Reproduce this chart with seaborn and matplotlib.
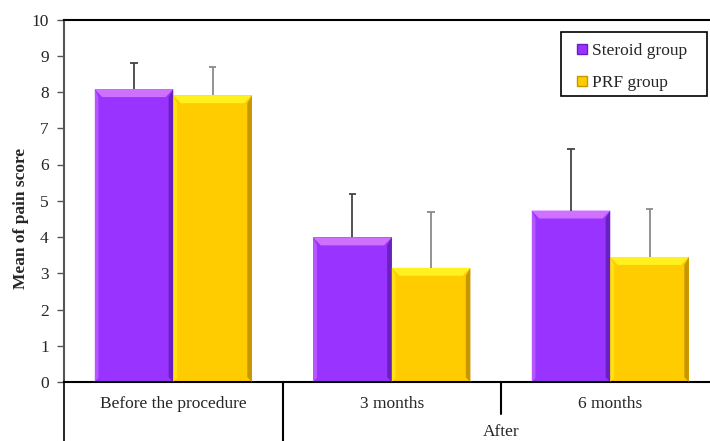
import numpy as np
import pandas as pd
import matplotlib
matplotlib.use('Agg')
import matplotlib.pyplot as plt
from matplotlib.lines import Line2D
from matplotlib.patches import Polygon, Rectangle
import seaborn as sns

# data
timepoints = ['Before the procedure', '3 months', '6 months']
groups = ['Steroid group', 'PRF group']
steroid_mean = [8.08, 3.99, 4.73]
steroid_sd = [0.73, 1.20, 1.71]
prf_mean = [7.91, 3.15, 3.45]
prf_sd = [0.79, 1.54, 1.32]

colors = {'Steroid group': '#9933FF', 'PRF group': '#FFCC00'}
light = {'Steroid group': '#D070FF', 'PRF group': '#FFF020'}
dark = {'Steroid group': '#6A1FC0', 'PRF group': '#C89600'}
err_col = {'Steroid group': '#444444', 'PRF group': '#8a8a8a'}

df = pd.DataFrame({
    'time': timepoints * 2,
    'group': [groups[0]] * 3 + [groups[1]] * 3,
    'mean': steroid_mean + prf_mean,
    'sd': steroid_sd + prf_sd,
})

sns.set_style('white')
plt.rcParams['font.family'] = ['Liberation Serif', 'DejaVu Serif']

W, H = 710, 441
fig = plt.figure(figsize=(7.1, 4.41), dpi=100)
ax = fig.add_axes([64 / W, 1 - 382 / H, 655.5 / W, 362.5 / H])

sns.barplot(data=df, x='time', y='mean', hue='group', palette=colors,
            width=0.72, gap=0, errorbar=None, saturation=1, ax=ax,
            edgecolor='none', legend=False)

# error bars (upward only) and a simple bevel on each bar
n = len(timepoints)
for i, p in enumerate(ax.patches[:2 * n]):
    g = groups[i // n]
    row = df[(df['group'] == g)].iloc[i % n]
    x0, w, h = p.get_x(), p.get_width(), p.get_height()
    cx = x0 + w / 2
    top = h + row['sd']
    ax.vlines(cx, h, top, color=err_col[g], lw=1.3, zorder=4)
    ax.hlines(top, cx - 0.017, cx + 0.017, color=err_col[g], lw=1.3, zorder=4)
    bx, by = 0.035, 0.22
    ax.add_patch(Polygon([[x0, h], [x0 + w, h], [x0 + w - bx, h - by], [x0 + bx, h - by]],
                         closed=True, facecolor=light[g], edgecolor='none', zorder=3))
    ax.add_patch(Polygon([[x0 + w, h], [x0 + w, 0], [x0 + w - bx * 0.6, by * 0.6], [x0 + w - bx * 0.6, h - by]],
                         closed=True, facecolor=dark[g], edgecolor='none', zorder=3))
    ax.add_patch(Polygon([[x0, h], [x0, 0], [x0 + bx * 0.5, by * 0.5], [x0 + bx * 0.5, h - by]],
                         closed=True, facecolor=light[g], edgecolor='none', alpha=0.6, zorder=3))

ax.set_xlim(-0.5, n - 0.5)
ax.set_ylim(0, 10)
ax.set_yticks(range(0, 11))
ax.tick_params(axis='y', which='both', left=True, length=5, width=1, color='#555555',
               labelsize=12.5, pad=6)
ax.set_xticks([])
ax.set_xlabel('')
ax.set_ylabel('Mean of pain score', fontsize=12.5, fontweight='bold')
ax.yaxis.set_label_coords(-0.0535, 0.45)
for s in ax.spines.values():
    s.set_color('black')
    s.set_linewidth(1.5)
ax.spines['left'].set_color('#555555')

# category table below the axis
trans = ax.get_xaxis_transform()
for i, t in enumerate(timepoints):
    ax.text(i, -0.062, t, transform=trans, ha='center', va='center', fontsize=12.5)
ax.text(1.5, -0.138, 'After', transform=trans, ha='center', va='center', fontsize=12.5)
ax.plot([-0.5, -0.5], [0, -0.2], transform=trans, color='black', lw=1.2, clip_on=False)
ax.plot([0.5, 0.5], [0, -0.2], transform=trans, color='black', lw=1.5, clip_on=False)
ax.plot([1.5, 1.5], [0, -0.087], transform=trans, color='black', lw=1.5, clip_on=False)

# legend with a hand-placed frame
fig.add_artist(Rectangle((561 / W, 1 - 96 / H), 146 / W, 64 / H, transform=fig.transFigure,
                         facecolor='white', edgecolor='black', lw=1.2, zorder=5))
handles = [Line2D([], [], marker='s', linestyle='none', markersize=6.5, markerfacecolor=colors[g],
                  markeredgecolor=dark[g], label=g) for g in groups]
leg = fig.legend(handles=handles, loc='upper left', bbox_to_anchor=(574 / W, 1 - 43 / H),
                 fontsize=12.5, frameon=False, handlelength=0.9, handletextpad=0.15,
                 labelspacing=0.92, borderpad=0, borderaxespad=0)
leg.set_zorder(6)

fig.savefig('out.png', dpi=100)
